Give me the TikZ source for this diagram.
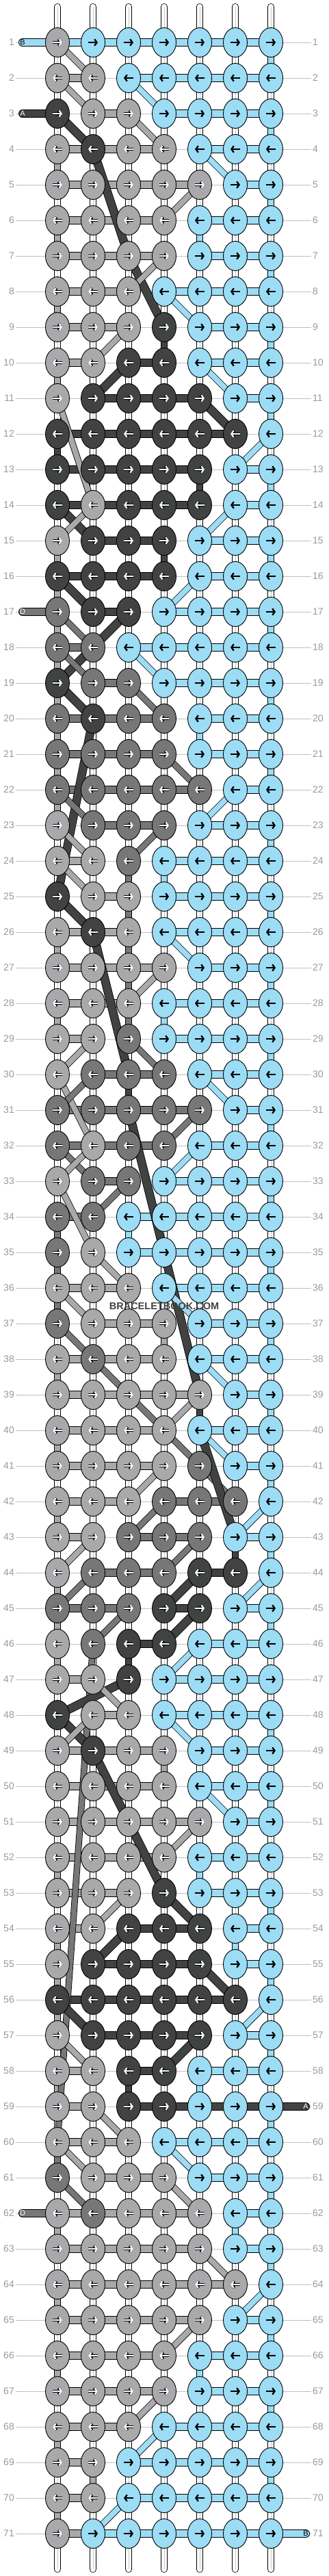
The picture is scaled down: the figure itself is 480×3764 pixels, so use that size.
\documentclass[tikz,border=0pt]{standalone}
\usepackage{fontspec}
\setmainfont{Liberation Sans}
\usetikzlibrary{shapes.geometric,arrows.meta}
\definecolor{colL}{HTML}{A9A8AA}
\definecolor{colM}{HTML}{777777}
\definecolor{colD}{HTML}{414342}
\definecolor{colB}{HTML}{9CDCF5}
\definecolor{numgray}{HTML}{9A9A9A}
\definecolor{guidegray}{HTML}{C0C0C0}
\pgfdeclarelayer{warps}
\pgfdeclarelayer{bars}
\pgfdeclarelayer{diags}
\pgfsetlayers{warps,bars,diags,main}

\def\vlink#1#2{\if#2x\else\draw[colbar=#2] (p-\rr-#1) -- (p-\rn-#1);\fi}
\def\vlinks#1#2#3#4#5#6#7{\vlink1#1\vlink2#2\vlink3#3\vlink4#4\vlink5#5\vlink6#6\vlink7#7}
\def\hlink#1#2{\if#2x\else\pgfmathtruncatemacro\cn{#1+1}\draw[rowbar=#2] (p-\rr-#1) -- (p-\rr-\cn);\fi}
\def\hlinks#1#2#3#4#5#6{\hlink1#1\hlink2#2\hlink3#3\hlink4#4\hlink5#5\hlink6#6}
\def\putknot#1#2{\node[knot, fill=col#2] (k-\rr-#1) at (p-\rr-#1) {};
  \if#2B\draw[arrB] ([xshift=\bx pt]k-\rr-#1.center) -- ([xshift=\ax pt]k-\rr-#1.center);
  \else
  \draw[arrO] ([xshift=\bx pt]k-\rr-#1.center) -- ([xshift=\ax pt]k-\rr-#1.center);
  \draw[arrW] ([xshift=\bx pt]k-\rr-#1.center) -- ([xshift=\ax pt]k-\rr-#1.center);
  \fi}
\def\putknots#1#2#3#4#5#6#7{\putknot1#1\putknot2#2\putknot3#3\putknot4#4\putknot5#5\putknot6#6\putknot7#7}
\newcommand\knotrow[4]{\def\rr{#1}\pgfmathtruncatemacro\rn{#1+1}%
  \ifodd#1 \def\ax{7}\def\bx{-7}\else\def\ax{-7}\def\bx{7}\fi
  \begin{pgfonlayer}{bars}\vlinks#4\hlinks#3\end{pgfonlayer}%
  \putknots#2}

\begin{document}
\begin{tikzpicture}[x=1pt, y=-1pt,
    num/.style={text=numgray, font=\fontsize{14}{14}\selectfont, inner sep=2pt},
    guide/.style={draw=guidegray, line width=0.9pt},
    warp/.style={draw=black, line width=0.8pt, double=white, double distance=8.7pt, line cap=round},
    warpcore/.style={draw=black!22, line width=0.6pt},
    strand/.style={draw=black, line width=0.8pt},
    rowbar/.style={strand, double=col#1, double distance=10.4pt},
    colbar/.style={strand, double=col#1, double distance=8.7pt},
    diagL/.style={strand, double=colL, double distance=7.9pt},
    diagM/.style={strand, double=colM, double distance=7.9pt},
    diagB/.style={strand, double=colB, double distance=7.9pt},
    diagD/.style={strand, double=colD, double distance=10.9pt},
    knot/.style={ellipse, draw=black, line width=0.9pt, minimum width=35pt, minimum height=43pt, inner sep=0pt},
    arrtip/.style={-{Straight Barb[length=3.4pt, width=9.5pt]}},
    arrB/.style={arrtip, draw=black, line width=2.3pt},
    arrO/.style={arrtip, draw=black, line width=3.7pt},
    arrW/.style={arrtip, draw=white, line width=2.1pt},
    tablab/.style={font=\fontsize{11}{11}\selectfont, inner sep=0pt}]
    \useasboundingbox (0,0) rectangle (480,3764);

    \begin{pgfonlayer}{warps}
    \fill[white] (0,0) rectangle (480,3764);
    \foreach \r in {1,...,71} {
        \foreach \c in {1,...,7} {\coordinate (p-\r-\c) at ({84+52*(\c-1)}, {62+52*(\r-1)});}
        \node[num, anchor=east] (nl-\r) at (23, {62+52*(\r-1)}) {\r};
        \node[num, anchor=west] (nr-\r) at (455, {62+52*(\r-1)}) {\r};
        \draw[guide] (nl-\r) -- (nr-\r);
    }
    \foreach \c in {1,...,7} {
        \coordinate (top-\c) at ({84+52*(\c-1)}, 10);
        \coordinate (bot-\c) at ({84+52*(\c-1)}, 3754);
        \draw[warp] (top-\c) -- (bot-\c);
        \draw[warpcore] (top-\c) -- (bot-\c);
    }
    \end{pgfonlayer}

    \coordinate (tab-1) at (33,62);
    \coordinate (tab-3) at (33,166);
    \coordinate (tab-17) at (33,894);
    \coordinate (tab-62) at (33,3234);
    \coordinate (tab-59) at (447,3078);
    \coordinate (tab-71) at (447,3702);
    \begin{pgfonlayer}{bars}
    \draw[rowbar=B, line cap=round] (tab-1) -- (p-1-1);
    \draw[rowbar=D, line cap=round] (tab-3) -- (p-3-1);
    \draw[rowbar=M, line cap=round] (tab-17) -- (p-17-1);
    \draw[rowbar=M, line cap=round] (tab-62) -- (p-62-1);
    \draw[rowbar=D, line cap=round] (tab-59) -- (p-59-7);
    \draw[rowbar=B, line cap=round] (tab-71) -- (p-71-7);
    \end{pgfonlayer}
    \node[tablab, text=black] (lab-1) at (tab-1) {B};
    \node[tablab, text=white] (lab-3) at (tab-3) {A};
    \node[tablab, text=white] (lab-17) at (tab-17) {D};
    \node[tablab, text=white] (lab-62) at (tab-62) {D};
    \node[tablab, text=white] (lab-59) at (tab-59) {A};
    \node[tablab, text=black] (lab-71) at (tab-71) {B};

    \begin{pgfonlayer}{diags}
    \draw[diagL] (p-1-1) -- (p-2-2); \draw[diagL] (p-2-1) -- (p-3-2); \draw[diagB] (p-2-3) -- (p-3-4);
    \draw[diagD] (p-3-1) -- (p-4-2); \draw[diagL] (p-3-3) -- (p-4-4); \draw[diagB] (p-4-5) -- (p-5-6);
    \draw[diagD] (p-4-2) -- (p-7-3); \draw[diagD] (p-7-3) -- (p-9-4); \draw[diagL] (p-5-5) -- (p-6-4);
    \draw[diagL] (p-7-4) -- (p-8-3); \draw[diagB] (p-8-4) -- (p-9-5); \draw[diagL] (p-9-3) -- (p-10-2);
    \draw[diagD] (p-10-3) -- (p-11-2); \draw[diagB] (p-10-5) -- (p-11-6); \draw[diagL] (p-11-1) -- (p-14-2);
    \draw[diagD] (p-11-5) -- (p-12-6); \draw[diagB] (p-12-7) -- (p-13-6); \draw[diagD] (p-14-1) -- (p-15-2);
    \draw[diagL] (p-14-2) -- (p-15-1); \draw[diagB] (p-14-6) -- (p-15-5); \draw[diagB] (p-16-5) -- (p-17-4);
    \draw[diagD] (p-16-1) -- (p-17-2); \draw[diagM] (p-17-1) -- (p-18-2); \draw[diagD] (p-17-3) -- (p-19-1);
    \draw[diagM] (p-18-1) -- (p-19-2); \draw[diagB] (p-18-3) -- (p-19-4); \draw[diagD] (p-19-1) -- (p-20-2);
    \draw[diagM] (p-19-3) -- (p-20-4); \draw[diagD] (p-20-2) -- (p-25-1); \draw[diagM] (p-21-4) -- (p-22-5);
    \draw[diagM] (p-22-1) -- (p-23-2); \draw[diagB] (p-22-6) -- (p-23-5); \draw[diagM] (p-23-4) -- (p-24-3);
    \draw[diagL] (p-23-1) -- (p-24-2); \draw[diagL] (p-24-1) -- (p-25-2); \draw[diagD] (p-25-1) -- (p-26-2);
    \draw[diagD] (p-26-2) -- (p-30-3); \draw[diagB] (p-26-4) -- (p-27-5); \draw[diagL] (p-27-4) -- (p-28-3);
    \draw[diagL] (p-29-2) -- (p-30-1); \draw[diagM] (p-29-3) -- (p-30-4); \draw[diagL] (p-30-1) -- (p-32-2);
    \draw[diagM] (p-30-2) -- (p-31-1); \draw[diagB] (p-30-5) -- (p-31-6); \draw[diagD] (p-31-3) -- (p-39-5);
    \draw[diagM] (p-31-5) -- (p-32-4); \draw[diagB] (p-32-5) -- (p-33-4); \draw[diagM] (p-32-1) -- (p-33-2);
    \draw[diagL] (p-32-2) -- (p-33-1); \draw[diagM] (p-33-3) -- (p-34-2); \draw[diagL] (p-33-1) -- (p-35-2);
    \draw[diagL] (p-35-2) -- (p-36-3); \draw[diagL] (p-36-1) -- (p-37-2); \draw[diagB] (p-36-4) -- (p-37-5);
    \draw[diagM] (p-37-1) -- (p-38-2); \draw[diagM] (p-38-2) -- (p-40-4); \draw[diagB] (p-38-5) -- (p-39-6);
    \draw[diagL] (p-39-5) -- (p-40-4); \draw[diagM] (p-40-4) -- (p-41-5); \draw[diagB] (p-40-5) -- (p-41-6);
    \draw[diagM] (p-41-5) -- (p-42-6); \draw[diagD] (p-40-5) -- (p-43-6); \draw[diagL] (p-41-4) -- (p-42-3);
    \draw[diagB] (p-42-7) -- (p-43-6); \draw[diagM] (p-42-4) -- (p-43-3); \draw[diagM] (p-43-5) -- (p-44-4);
    \draw[diagL] (p-43-2) -- (p-44-1); \draw[diagM] (p-44-2) -- (p-45-1); \draw[diagB] (p-44-7) -- (p-45-6);
    \draw[diagD] (p-44-5) -- (p-45-4); \draw[diagD] (p-45-5) -- (p-46-4); \draw[diagM] (p-45-3) -- (p-46-2);
    \draw[diagB] (p-46-5) -- (p-47-4); \draw[diagM] (p-46-2) -- (p-60-1); \draw[diagD] (p-47-3) -- (p-48-1);
    \draw[diagL] (p-47-2) -- (p-48-3); \draw[diagD] (p-48-1) -- (p-49-2); \draw[diagL] (p-48-2) -- (p-49-1);
    \draw[diagB] (p-48-4) -- (p-49-5); \draw[diagD] (p-49-2) -- (p-53-4); \draw[diagB] (p-50-5) -- (p-51-6);
    \draw[diagL] (p-51-5) -- (p-52-4); \draw[diagD] (p-53-4) -- (p-54-5); \draw[diagL] (p-53-3) -- (p-54-2);
    \draw[diagD] (p-54-3) -- (p-55-2); \draw[diagD] (p-55-5) -- (p-56-6); \draw[diagD] (p-56-1) -- (p-57-2);
    \draw[diagB] (p-56-7) -- (p-57-6); \draw[diagL] (p-57-1) -- (p-58-2); \draw[diagD] (p-57-5) -- (p-58-4);
    \draw[diagL] (p-59-2) -- (p-60-3); \draw[diagL] (p-60-1) -- (p-61-2); \draw[diagB] (p-60-4) -- (p-61-5);
    \draw[diagM] (p-61-1) -- (p-62-2); \draw[diagL] (p-61-4) -- (p-62-5); \draw[diagL] (p-63-5) -- (p-64-6);
    \draw[diagB] (p-64-7) -- (p-65-6); \draw[diagL] (p-65-5) -- (p-66-4); \draw[diagL] (p-67-4) -- (p-68-3);
    \draw[diagB] (p-68-4) -- (p-69-3); \draw[diagB] (p-70-3) -- (p-71-2);
    \end{pgfonlayer}

    \knotrow{1}{LBBBBBB}{BBBBBB}{xxxxxxB}
    \knotrow{2}{LLBBBBB}{LxBBBB}{xxxxxxx}
    \knotrow{3}{DLLBBBB}{xLxBBB}{xxxxxxB}
    \knotrow{4}{LDLLBBB}{LLLxBB}{Lxxxxxx}
    \knotrow{5}{LLLLLBB}{LLLLxB}{xxxxxxB}
    \knotrow{6}{LLLLBBB}{LLLxBB}{LxxxBxx}
    \knotrow{7}{LLLLBBB}{LLLxBB}{xxxxxxB}
    \knotrow{8}{LLLBBBB}{LLxBBB}{Lxxxxxx}
    \knotrow{9}{LLLDBBB}{LLxxBB}{xxxDxxB}
    \knotrow{10}{LLDDBBB}{LxDxBB}{Lxxxxxx}
    \knotrow{11}{LDDDDBB}{xDDDxB}{xxxxxxB}
    \knotrow{12}{DDDDDDB}{DDDDDx}{Dxxxxxx}
    \knotrow{13}{DDDDDBB}{DDDDxB}{xxxxDxB}
    \knotrow{14}{DLDDDBB}{DDDDxB}{xxxxxxx}
    \knotrow{15}{LDDDBBB}{xDDxBB}{LxxDxxB}
    \knotrow{16}{DDDDBBB}{DDDxBB}{Lxxxxxx}
    \knotrow{17}{MDDBBBB}{xDxBBB}{LxxxxxB}
    \knotrow{18}{MMBBBBB}{MxBBBB}{Lxxxxxx}
    \knotrow{19}{DMMBBBB}{xMxBBB}{LxxxxxB}
    \knotrow{20}{MDMMBBB}{MMMxBB}{LxxxBxx}
    \knotrow{21}{MMMMBBB}{MMMxBB}{LxxxxxB}
    \knotrow{22}{MMMMMBB}{MMMMxB}{Lxxxxxx}
    \knotrow{23}{LMMMBBB}{xMMxBB}{xxxxxxB}
    \knotrow{24}{LLMBBBB}{LxxBBB}{xxMBxxx}
    \knotrow{25}{DLLBBBB}{xLxBBB}{xxMxxxB}
    \knotrow{26}{LDLBBBB}{LLxBBB}{LxMxxxx}
    \knotrow{27}{LLLLBBB}{LLLxBB}{xxMxxxB}
    \knotrow{28}{LLLBBBB}{LLxBBB}{LxMBxxx}
    \knotrow{29}{LLMBBBB}{LxxBBB}{xxxxxxB}
    \knotrow{30}{LMMMBBB}{xMMxBB}{xxDxxxx}
    \knotrow{31}{MMMMMBB}{MMMMxB}{xxxxxxB}
    \knotrow{32}{MLMMBBB}{MMMxBB}{xxxxxxx}
    \knotrow{33}{LMMBBBB}{xMxBBB}{xxxxxxB}
    \knotrow{34}{MMBBBBB}{MxBBBB}{MxBxxxx}
    \knotrow{35}{MLBBBBB}{xxBBBB}{MxxxxxB}
    \knotrow{36}{LLLBBBB}{LLxBBB}{Mxxxxxx}
    \knotrow{37}{MLLLBBB}{xLLxBB}{xxxLxxB}
    \knotrow{38}{LMLLBBB}{LLLxBB}{Lxxxxxx}
    \knotrow{39}{LLLLLBB}{LLLLxB}{xxxxDxB}
    \knotrow{40}{LLLLBBB}{LLLxBB}{Lxxxxxx}
    \knotrow{41}{LLLLMBB}{LLLxxB}{xxxxxxB}
    \knotrow{42}{LLLMMMB}{LLxMMx}{Lxxxxxx}
    \knotrow{43}{LLMMMBB}{LxMMxB}{xxxxxDB}
    \knotrow{44}{LMMMDDB}{xMMxDx}{Lxxxxxx}
    \knotrow{45}{MMMDDBB}{MMxDxB}{LxxxxxB}
    \knotrow{46}{LMDDBBB}{xxDxBB}{LxDxxxx}
    \knotrow{47}{LLDBBBB}{LxxBBB}{xxxxxxx}
    \knotrow{48}{DLLBBBB}{xLxBBB}{xxxxxxB}
    \knotrow{49}{LDLLBBB}{LLLxBB}{xxxLxxx}
    \knotrow{50}{LLLLBBB}{LLLxBB}{xxxxxxB}
    \knotrow{51}{LLLLLBB}{LLLLxB}{xxxxxxx}
    \knotrow{52}{LLLLBBB}{LLLxBB}{LxxxBxx}
    \knotrow{53}{LLLDBBB}{LLxxBB}{xxxxxxB}
    \knotrow{54}{LLDDDBB}{LxDDxB}{LxxxxBx}
    \knotrow{55}{LDDDDBB}{xDDDxB}{LxxxxxB}
    \knotrow{56}{DDDDDDB}{DDDDDx}{Lxxxxxx}
    \knotrow{57}{LDDDDBB}{xDDDxB}{xxxxxxB}
    \knotrow{58}{LLDDBBB}{LxDxBB}{LxDxBxx}
    \knotrow{59}{LLDDBBB}{LxDDDD}{xxxxxxB}
    \knotrow{60}{LLLBBBB}{LLxBBB}{Mxxxxxx}
    \knotrow{61}{MLLLBBB}{xLLxBB}{xxxxxxB}
    \knotrow{62}{LMLLLBB}{LLLLxB}{LxxxxBx}
    \knotrow{63}{LLLLLBB}{LLLLxB}{xxxxxxB}
    \knotrow{64}{LLLLLLB}{LLLLLx}{Lxxxxxx}
    \knotrow{65}{LLLLLBB}{LLLLxB}{xxxxxxB}
    \knotrow{66}{LLLLBBB}{LLLxBB}{LxxxBxx}
    \knotrow{67}{LLLLBBB}{LLLxBB}{xxxxxxB}
    \knotrow{68}{LLLBBBB}{LLxBBB}{Lxxxxxx}
    \knotrow{69}{LLBBBBB}{LxBBBB}{xLxxxxB}
    \knotrow{70}{LLBBBBB}{LxBBBB}{Lxxxxxx}
    \knotrow{71}{LBBBBBB}{LBBBBB}{xxxxxxx}

    \node[text=colD, font=\bfseries\fontsize{14.5}{15}\selectfont] (mark) at (240,1908) {BRACELETBOOK.COM};
\end{tikzpicture}
\end{document}
